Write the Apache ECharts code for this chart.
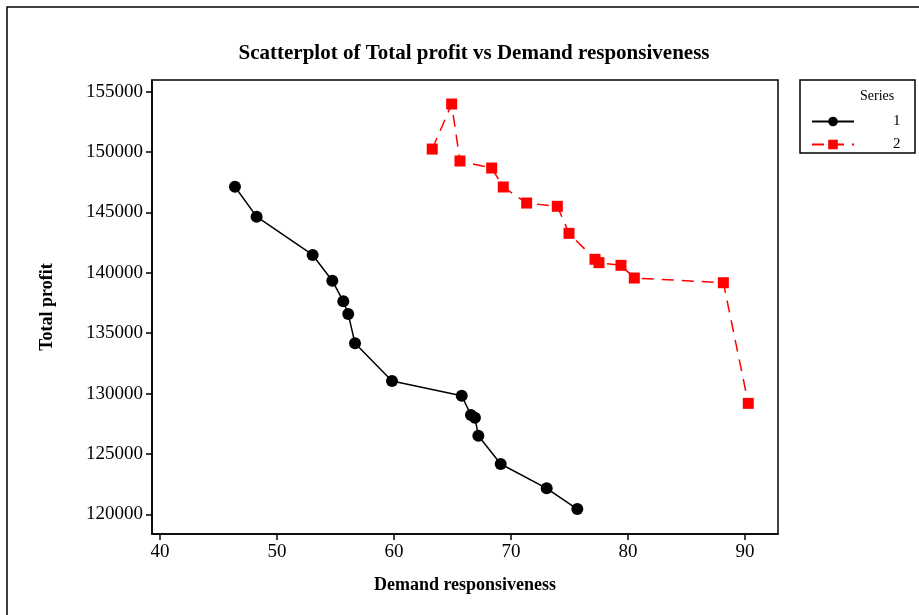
<!DOCTYPE html>
<html>
<head>
<meta charset="utf-8">
<script src="https://cdn.jsdelivr.net/npm/echarts@6/dist/echarts.min.js"></script>
<style>
  html, body { margin: 0; padding: 0; background: #fff; }
  #chart { width: 919px; height: 615px; }
</style>
</head>
<body>
<div id="chart"></div>
<script>
// demand responsiveness (x) and total profit (y) per series
var series1X = [46.41, 48.26, 53.05, 54.73, 55.67, 56.09, 56.67, 59.83, 65.79, 66.58, 66.92, 67.21, 69.12, 73.05, 75.67];
var series1Y = [147130, 144650, 141480, 139350, 137640, 136590, 134160, 131040, 129820, 128220, 128000, 126510, 124170, 122150, 120440];
var series2X = [63.27, 64.93, 65.64, 68.35, 69.34, 71.34, 73.96, 74.96, 77.18, 77.52, 79.40, 80.54, 88.15, 90.28];
var series2Y = [150250, 153980, 149260, 148680, 147110, 145780, 145510, 143270, 141120, 140840, 140620, 139570, 139180, 129190];
var xTicks = [40, 50, 60, 70, 80, 90];
var yTicks = [120000, 125000, 130000, 135000, 140000, 145000, 150000, 155000];

var font = '"Liberation Serif", "Times New Roman", serif';

function pairs(xs, ys) {
  return xs.map(function (x, i) { return [x, ys[i]]; });
}

var myChart = echarts.init(document.getElementById('chart'));
var option = {
  backgroundColor: '#fff',
  animation: false,
  textStyle: { fontFamily: font, color: '#000' },
  title: {
    text: 'Scatterplot of Total profit vs Demand responsiveness',
    left: 469,
    textAlign: 'center',
    top: 38,
    textStyle: { fontFamily: font, fontSize: 21, fontWeight: 'bold', color: '#000' }
  },
  legend: {
    orient: 'vertical',
    left: 806,
    top: 109,
    itemWidth: 42,
    itemHeight: 12,
    itemGap: 8,
    textStyle: { fontFamily: font, fontSize: 15, color: '#000', padding: [0, 0, 0, 34] },
    data: ['1', '2']
  },
  grid: {
    left: 152, top: 80, right: 141, bottom: 81,
    show: true, borderColor: '#000', borderWidth: 1.5,
    containLabel: false
  },
  xAxis: {
    type: 'value',
    min: 39.32,
    max: 92.82,
    name: 'Demand responsiveness',
    nameLocation: 'middle',
    nameGap: 42,
    nameTextStyle: { fontFamily: font, fontSize: 18, fontWeight: 'bold', color: '#000' },
    axisLine: { show: true, lineStyle: { color: '#000', width: 1.5 } },
    axisTick: { show: true, length: 6, inside: false, customValues: xTicks, lineStyle: { color: '#000', width: 1.5 } },
    axisLabel: { customValues: xTicks, fontFamily: font, fontSize: 19, color: '#000', margin: 9 },
    splitLine: { show: false }
  },
  yAxis: {
    type: 'value',
    min: 118370,
    max: 155970,
    name: 'Total profit',
    nameLocation: 'middle',
    nameGap: 96,
    nameRotate: 90,
    nameTextStyle: { fontFamily: font, fontSize: 18, fontWeight: 'bold', color: '#000' },
    axisLine: { show: true, lineStyle: { color: '#000', width: 1.5 } },
    axisTick: { show: true, length: 6, inside: false, customValues: yTicks, lineStyle: { color: '#000', width: 1.5 } },
    axisLabel: {
      customValues: yTicks, fontFamily: font, fontSize: 19, color: '#000', margin: 9,
      formatter: function (v) { return String(v); }
    },
    splitLine: { show: false }
  },
  graphic: [
    { type: 'rect', shape: { x: 7, y: 7, width: 1000, height: 1000 }, style: { fill: 'none', stroke: '#000', lineWidth: 1.5 }, silent: true, z: 0 },
    { type: 'rect', shape: { x: 800, y: 80, width: 115, height: 73 }, style: { fill: 'none', stroke: '#000', lineWidth: 1.5 }, silent: true },
    { type: 'text', left: 860, top: 89, style: { text: 'Series', font: '14px ' + font, fill: '#000' } }
  ],
  series: [
    {
      name: '1',
      type: 'line',
      data: pairs(series1X, series1Y),
      symbol: 'circle',
      symbolSize: 12,
      itemStyle: { color: '#000' },
      lineStyle: { color: '#000', width: 1.5 }
    },
    {
      name: '2',
      type: 'line',
      data: pairs(series2X, series2Y),
      symbol: 'rect',
      symbolSize: 11,
      itemStyle: { color: '#ff0000' },
      lineStyle: { color: '#ff0000', width: 1.5, type: [12, 8] }
    }
  ]
};
myChart.setOption(option);
</script>
</body>
</html>
